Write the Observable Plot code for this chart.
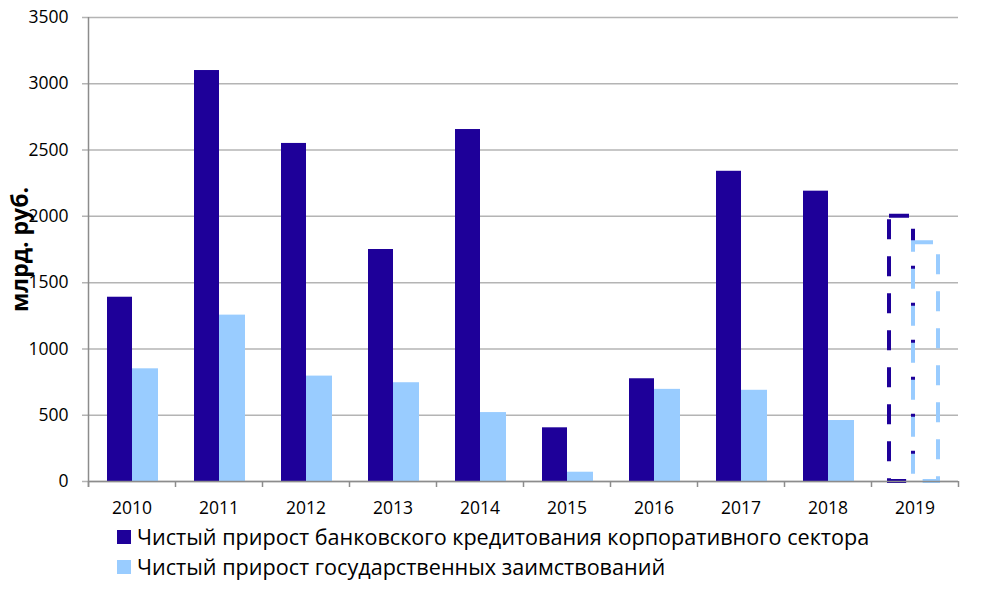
<!DOCTYPE html>
<html>
<head>
<meta charset="utf-8">
<script src="https://cdn.jsdelivr.net/npm/d3@7"></script>
<script src="https://cdn.jsdelivr.net/npm/@observablehq/plot@0.6"></script>
<style>
  html, body { margin: 0; padding: 0; background: #fff; }
  #chart { width: 990px; }
  .legend { font-family: "Open Sans", sans-serif; font-size: 21.6px; color: #000; margin-left: 117px; line-height: 30px; margin-top: 0px; }
  .legend div { display: flex; align-items: center; }
  .legend span.sw { width: 14px; height: 14px; display: inline-block; margin-right: 6px; }
</style>
</head>
<body>
<div id="chart"></div>
<script>
const years = ["2010","2011","2012","2013","2014","2015","2016","2017","2018","2019"];
const bankCredit = [1390, 3100, 2550, 1750, 2655, 405, 775, 2340, 2190, 2000];
const govBorrow  = [850, 1255, 795, 745, 520, 70, 695, 688, 460, 1800];
const forecastYears = ["2019"];
const seriesNames = [
  "Чистый прирост банковского кредитования корпоративного сектора",
  "Чистый прирост государственных заимствований"
];
const yTicks = [0, 500, 1000, 1500, 2000, 2500, 3000, 3500];
const colors = ["#1e0099", "#99ccff"];

const rows = years.map((y, i) => ({year: y, bank: bankCredit[i], gov: govBorrow[i], forecast: forecastYears.includes(y)}));
const solid = rows.filter(d => !d.forecast);
const dashed = rows.filter(d => d.forecast);

const W = 990, H = 522, mL = 88, mR = 32, mT = 17, mB = 41;
const step = (W - mL - mR) / years.length;
const yUnit = 3500 / (H - mT - mB);

const plot = Plot.plot({
  width: W, height: H,
  marginLeft: mL, marginRight: mR, marginTop: mT, marginBottom: mB,
  style: {fontFamily: "Open Sans, sans-serif", background: "#fff", overflow: "visible"},
  x: {type: "band", domain: years, paddingInner: 0, paddingOuter: 0, label: null},
  y: {domain: [0, 3500], label: null},
  marks: [
    Plot.ruleY(yTicks, {stroke: "#b4b4b4", strokeWidth: 1.5, insetLeft: -6}),
    Plot.barY(solid, {x: "year", y: "bank", fill: colors[0], insetLeft: 19, insetRight: 43}),
    Plot.barY(solid, {x: "year", y: "gov", fill: colors[1], insetLeft: 44, insetRight: 17}),
    Plot.barY(dashed, {x: "year", y: "bank", fill: "none", stroke: colors[0], strokeWidth: 4, strokeDasharray: "20,17", insetLeft: 18, insetRight: 45}),
    Plot.barY(dashed, {x: "year", y: "gov", fill: "none", stroke: colors[1], strokeWidth: 4, strokeDasharray: "20,17", insetLeft: 42, insetRight: 20}),
    Plot.ruleY([0], {stroke: "#8c8c8c", strokeWidth: 1.5}),
    Plot.ruleX([years[0]], {x: d => d, dx: -step / 2, y1: -6 * yUnit, y2: 3500, stroke: "#8c8c8c", strokeWidth: 1.5}),
    Plot.ruleX(years, {x: d => d, dx: -step / 2, y1: 0, y2: -6 * yUnit, stroke: "#8c8c8c", strokeWidth: 1.5}),
    Plot.ruleX([years[years.length - 1]], {x: d => d, dx: step / 2, y1: 0, y2: -6 * yUnit, stroke: "#8c8c8c", strokeWidth: 1.5}),
    Plot.axisX({tickSize: 0, tickPadding: 20, fontSize: 17.5, stroke: null, fill: "#000"}),
    Plot.axisY(yTicks, {tickSize: 0, tickPadding: 20, fontSize: 17.5, fill: "#000", tickFormat: d3.format("d")}),
    Plot.text(["млрд. руб."], {frameAnchor: "left", dx: -68, rotate: -90, fontSize: 23, fontWeight: "bold", fill: "#000", textAnchor: "middle", lineAnchor: "middle"})
  ]
});
document.getElementById("chart").appendChild(plot);

const legend = document.createElement("div");
legend.className = "legend";
seriesNames.forEach((name, i) => {
  const row = document.createElement("div");
  const sw = document.createElement("span");
  sw.className = "sw";
  sw.style.background = colors[i];
  row.appendChild(sw);
  row.appendChild(document.createTextNode(name));
  legend.appendChild(row);
});
document.getElementById("chart").appendChild(legend);
</script>
</body>
</html>
